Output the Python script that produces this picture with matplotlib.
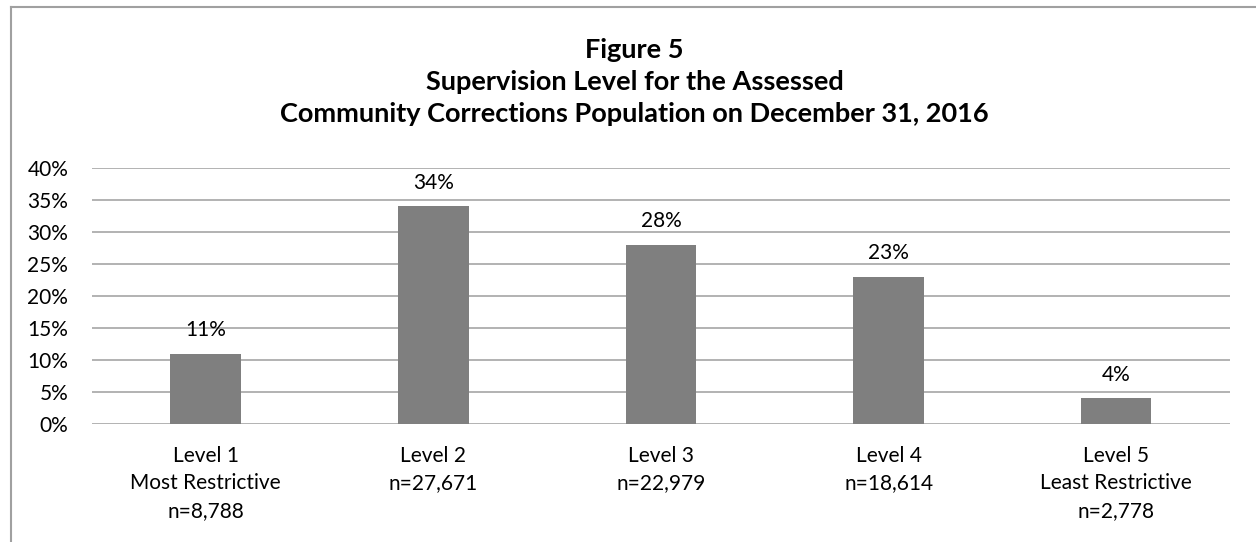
import matplotlib.pyplot as plt
from matplotlib.lines import Line2D

# data
levels = ["Level 1\nMost Restrictive\nn=8,788", "Level 2\nn=27,671", "Level 3\nn=22,979",
          "Level 4\nn=18,614", "Level 5\nLeast Restrictive\nn=2,778"]
percents = [11, 34, 28, 23, 4]
y_ticks = [0, 5, 10, 15, 20, 25, 30, 35, 40]

plt.rcParams['font.family'] = ['Lato', 'DejaVu Sans']

fig = plt.figure(figsize=(12.56, 5.42), dpi=100)
ax = fig.add_axes([0.0732, 0.2177, 0.9061, 0.4723])

x = range(len(levels))
ax.bar(x, percents, width=0.31, color='#7f7f7f', zorder=3)

# value labels above bars
for i, v in enumerate(percents):
    ax.annotate(f"{v}%", (i, v), xytext=(0, 17), textcoords='offset points',
                ha='center', va='center', fontsize=15)

ax.set_xlim(-0.5, len(levels) - 0.5)
ax.set_ylim(0, 40)
ax.set_yticks(y_ticks)
ax.set_yticklabels([f"{t}%" for t in y_ticks], fontsize=15)
ax.set_xticks(list(x))
ax.set_xticklabels(levels, fontsize=15, linespacing=1.45)
ax.tick_params(axis='both', length=0)
ax.tick_params(axis='y', pad=17)
ax.tick_params(axis='x', pad=16)
ax.grid(axis='y', color='#a6a6a6', linewidth=1.2, zorder=0)
for s in ax.spines.values():
    s.set_visible(False)

fig.text(634.5 / 1256, 1 - 82 / 542, "Figure 5\nSupervision Level for the Assessed\n"
         "Community Corrections Population on December 31, 2016",
         ha='center', va='center', fontsize=19.5, fontweight='bold', linespacing=1.42)

# chart frame (left and top edges only visible)
fig.add_artist(Line2D([11 / 1256, 11 / 1256], [0, 1 - 7 / 542], color='#a0a0a0', linewidth=1.5))
fig.add_artist(Line2D([11 / 1256, 1], [1 - 7 / 542, 1 - 7 / 542], color='#a0a0a0', linewidth=1.5))

fig.savefig("out.png", dpi=100)
